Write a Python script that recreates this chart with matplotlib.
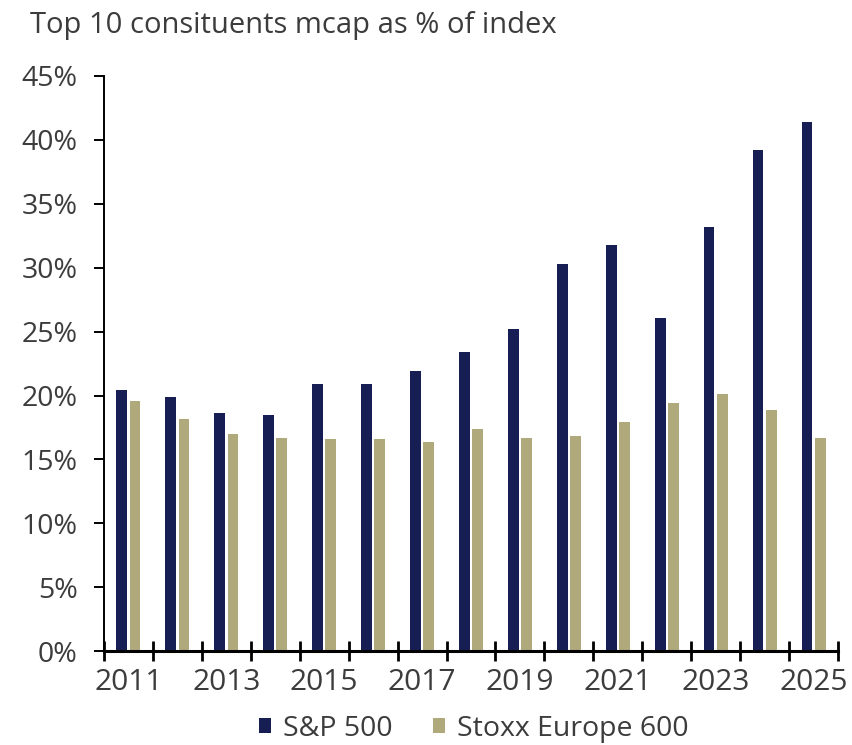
import numpy as np
import matplotlib.pyplot as plt
from matplotlib.ticker import FixedLocator, PercentFormatter

years = list(range(2011, 2026))
sp500 = [20.4, 19.9, 18.6, 18.5, 20.9, 20.9, 21.9, 23.4, 25.2, 30.3, 31.8, 26.1, 33.2, 39.2, 41.4]
stoxx600 = [19.6, 18.2, 17.0, 16.7, 16.6, 16.6, 16.4, 17.4, 16.7, 16.8, 17.9, 19.4, 20.1, 18.9, 16.7]
series_names = ["S&P 500", "Stoxx Europe 600"]

navy = "#161E54"
khaki = "#B0A97C"
grey = "#3C3C3C"

plt.rcParams['font.family'] = ['Open Sans', 'DejaVu Sans']

fig = plt.figure(figsize=(8.52, 7.45), dpi=100)
ax = fig.add_axes([0.122, 0.126, 0.8616, 0.772])

x = np.arange(len(years))
w = 0.22
ax.bar(x - 0.135, sp500, width=w, color=navy, label=series_names[0])
ax.bar(x + 0.135, stoxx600, width=w, color=khaki, label=series_names[1])

ax.set_xlim(-0.5, len(years) - 0.5)
ax.set_ylim(0, 45)
ax.set_yticks(np.arange(0, 46, 5))
ax.yaxis.set_major_formatter(PercentFormatter(decimals=0))

# year labels every other year, ticks on the category boundaries
ax.xaxis.set_major_locator(FixedLocator(np.arange(-0.5, len(years), 1.0)))
ax.set_xticklabels([])
ax.xaxis.set_minor_locator(FixedLocator(x[::2]))
ax.set_xticklabels([str(y) for y in years[::2]], minor=True)
ax.tick_params(axis='x', which='major', direction='inout', length=14, width=2, color='black')
ax.tick_params(axis='x', which='minor', length=0, pad=12, labelsize=21.5, labelcolor=grey)
ax.tick_params(axis='y', direction='out', length=7, width=1.4, pad=12, labelsize=20.5, labelcolor=grey)

for s in ['top', 'right']:
    ax.spines[s].set_visible(False)
ax.spines['left'].set_linewidth(1.4)
ax.spines['bottom'].set_linewidth(2.2)

fig.text(0.035, 0.966, "Top 10 consituents mcap as % of index", fontsize=21, color=grey, va='center')

leg = fig.legend(loc='center', bbox_to_anchor=(0.556, 0.022), ncol=2, frameon=False,
                 fontsize=20.5, handlelength=0.42, handleheight=0.42, columnspacing=1.4,
                 handletextpad=0.42, borderpad=0)
for t in leg.get_texts():
    t.set_color(grey)

fig.savefig("out.png", dpi=100)
